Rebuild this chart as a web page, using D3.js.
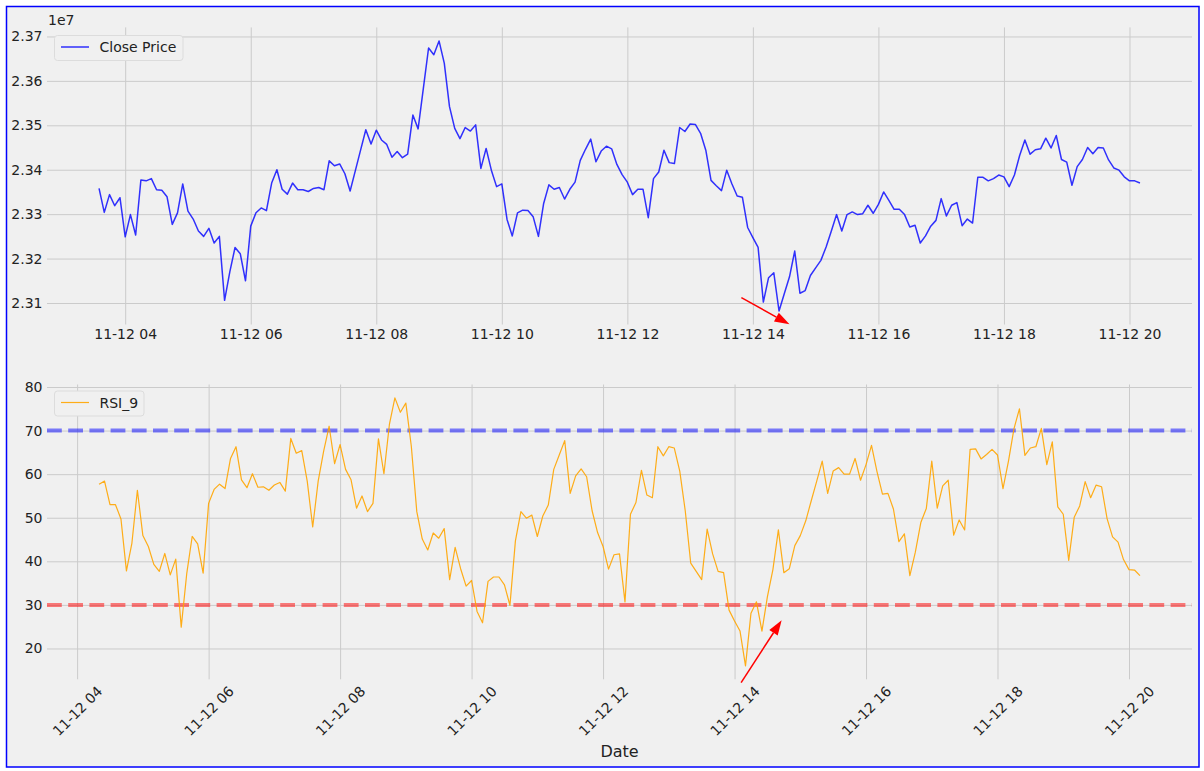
<!DOCTYPE html>
<html><head><meta charset="utf-8">
<script src="https://cdn.jsdelivr.net/npm/d3@7"></script>
<style>body{margin:0;background:#fff;} svg{display:block;font-family:"DejaVu Sans",sans-serif;}</style>
</head><body><svg id="c" width="1204" height="771"></svg>
<script>
// ---- data ----
const startTime = new Date(2021, 10, 12, 3, 35);
const stepMinutes = 5;
const closePrice = [
23358000,23304000,23344000,23319000,23337000,23249000,23299000,23253000,23377000,23375000,
23380000,23355000,23354000,23339000,23277000,23303000,23368000,23307000,23289000,23262000,
23250000,23268000,23235000,23250000,23106000,23170000,23225000,23211000,23150000,23273000,
23303000,23314000,23308000,23370000,23400000,23356000,23345000,23370000,23355000,23355000,
23351000,23358000,23360000,23355000,23420000,23409000,23413000,23391000,23352000,23398000,
23444000,23490000,23458000,23489000,23467000,23457000,23428000,23441000,23427000,23435000,
23523000,23492000,23583000,23674000,23659000,23690000,23640000,23542000,23493000,23470000,
23495000,23487000,23501000,23403000,23448000,23399000,23362000,23368000,23288000,23251000,
23303000,23309000,23308000,23294000,23250000,23324000,23366000,23356000,23360000,23334000,
23356000,23372000,23421000,23446000,23469000,23418000,23442000,23453000,23447000,23412000,
23389000,23372000,23344000,23356000,23356000,23292000,23380000,23395000,23444000,23416000,
23414000,23495000,23486000,23503000,23502000,23482000,23444000,23376000,23364000,23353000,
23399000,23368000,23341000,23338000,23270000,23247000,23225000,23102000,23157000,23168000,
23082000,23121000,23159000,23217000,23122000,23128000,23162000,23179000,23196000,23226000,
23262000,23299000,23262000,23299000,23305000,23299000,23301000,23320000,23302000,23322000,
23350000,23331000,23311000,23311000,23299000,23271000,23275000,23235000,23251000,23273000,
23286000,23335000,23296000,23320000,23326000,23274000,23289000,23280000,23383000,23383000,
23375000,23380000,23388000,23384000,23362000,23388000,23432000,23467000,23435000,23445000,
23447000,23471000,23449000,23477000,23423000,23417000,23365000,23407000,23423000,23450000,
23436000,23450000,23449000,23422000,23404000,23399000,23384000,23375000,23375000,23370000
];
const rsiStartIndex = 9;
const rsi9 = [
57.7,58.4,53.0,53.0,49.7,37.8,44.2,56.3,45.9,43.4,
39.3,37.7,41.8,36.9,40.5,24.9,37.1,45.7,44.0,37.3,
53.3,56.5,57.7,56.7,63.6,66.3,58.7,56.9,60.1,57.0,
57.1,56.3,57.5,58.1,56.1,68.2,64.8,65.4,58.4,47.9,
58.4,65.3,71.0,62.4,66.8,61.1,58.7,52.2,55.0,51.4,
53.3,68.1,60.1,71.4,77.5,74.2,76.3,66.4,51.4,45.1,
42.6,46.5,45.3,47.5,35.8,43.2,38.3,34.3,35.6,28.5,
25.9,35.4,36.4,36.4,34.6,29.9,44.7,51.4,49.9,50.6,
45.7,50.4,52.9,61.1,64.4,67.7,55.6,59.6,61.2,59.4,
51.6,46.6,43.4,38.2,41.5,41.7,30.7,50.8,53.5,60.9,
55.2,54.6,66.3,64.2,66.3,66.0,60.7,51.6,39.6,37.7,
35.8,47.4,41.7,37.7,37.4,28.8,26.3,24.0,16.0,28.1,
30.7,24.0,31.9,38.1,47.2,37.4,38.3,43.6,45.9,49.3,
53.9,58.4,63.0,55.6,60.7,61.5,60.0,60.0,63.6,58.6,
62.2,66.6,60.6,55.4,55.6,52.0,44.5,46.3,36.7,42.1,
48.9,52.1,63.0,52.2,57.3,58.6,46.0,49.5,47.2,65.7,
65.8,63.5,64.5,65.7,64.4,56.7,63.0,70.4,75.0,64.3,
66.0,66.3,70.5,62.2,67.4,52.5,50.8,40.2,50.1,52.7,
58.3,54.6,57.5,57.1,49.8,45.6,44.4,40.4,38.1,38.0,
36.7
];
const priceTicks = [2.31, 2.32, 2.33, 2.34, 2.35, 2.36, 2.37];
const rsiTicks = [20, 30, 40, 50, 60, 70, 80];
const overbought = 70, oversold = 30;
const arrowTop = {from: [new Date(2021,10,12,13,49), 23112000], to: [new Date(2021,10,12,14,35), 23052000]};
const arrowBottom = {from: [new Date(2021,10,12,14,6), 12.15], to: [new Date(2021,10,12,14,43), 26.5]};
const seriesNames = ["Close Price", "RSI_9"];

// ---- layout ----
const svg = d3.select("#c");
svg.append("rect").attr("x",6.5).attr("y",6.5).attr("width",1192.5).attr("height",760.5)
  .attr("fill","#f0f0f0").attr("stroke","#0000ff").attr("stroke-width",1.5);

const times = closePrice.map((_, i) => new Date(+startTime + i * stepMinutes * 60000));
const rsiPts = rsi9.map((v, k) => ({t: times[rsiStartIndex + k], v}));
function padExtent(ext){ const a=+ext[0], b=+ext[1], p=(b-a)*0.05; return [a-p, b+p]; }

const L = 47, R = 1192;
const A = {y0: 27.4, y1: 324.5}, B = {y0: 384.5, y1: 679.3};
const fmt = d3.timeFormat("%m-%d %H");
const txt = "#222";

const x1 = d3.scaleTime().domain(padExtent(d3.extent(times)).map(d=>new Date(d))).range([L, R]);
const y1 = d3.scaleLinear().domain(padExtent(d3.extent(closePrice))).range([A.y1, A.y0]);
const x2 = d3.scaleTime().domain(padExtent(d3.extent(rsiPts, d=>d.t)).map(d=>new Date(d))).range([L, R]);
const y2 = d3.scaleLinear().domain(padExtent(d3.extent(rsi9))).range([B.y1, B.y0]);

function styleAxis(g){
  g.attr("font-size",14).attr("font-family","DejaVu Sans, sans-serif").attr("color",txt);
  g.select(".domain").remove();
  g.selectAll("line").attr("stroke","#cbcbcb").attr("stroke-width",1);
}

// top axes grid + labels
svg.append("g").attr("transform",`translate(0,${A.y1})`)
  .call(d3.axisBottom(x1).ticks(d3.timeHour.every(2)).tickSize(-(A.y1-A.y0)).tickFormat(fmt).tickPadding(4.5))
  .call(styleAxis);
svg.append("g").attr("transform",`translate(${L},0)`)
  .call(d3.axisLeft(y1).tickValues(priceTicks.map(v=>v*1e7)).tickSize(-(R-L)).tickFormat(d=>(d/1e7).toFixed(2)).tickPadding(4.5))
  .call(styleAxis);
svg.append("text").attr("x",48).attr("y",25).attr("font-size",14).attr("fill",txt).text("1e7");

// bottom axes grid + labels
const gxb = svg.append("g").attr("transform",`translate(0,${B.y1})`)
  .call(d3.axisBottom(x2).ticks(d3.timeHour.every(2)).tickSize(-(B.y1-B.y0)).tickFormat(fmt))
  .call(styleAxis);
gxb.selectAll("text").attr("y",0).attr("dy","0.35em")
  .attr("transform",`translate(0,${711-B.y1}) rotate(-45)`).attr("text-anchor","middle");
svg.append("g").attr("transform",`translate(${L},0)`)
  .call(d3.axisLeft(y2).tickValues(rsiTicks).tickSize(-(R-L)).tickPadding(4.5))
  .call(styleAxis);
svg.append("text").attr("x",(L+R)/2).attr("y",756.5).attr("text-anchor","middle")
  .attr("font-size",16).attr("fill",txt).text("Date");

// threshold lines
[[overbought,"#0000ff"],[oversold,"#ff0000"]].forEach(([v,c])=>{
  svg.append("line").attr("x1",L).attr("x2",R).attr("y1",y2(v)).attr("y2",y2(v))
    .attr("stroke",c).attr("stroke-opacity",0.5).attr("stroke-width",4).attr("stroke-dasharray","14.8,6.4");
});

// series
svg.append("path").datum(times.map((t,i)=>[t,closePrice[i]]))
  .attr("d", d3.line().x(d=>x1(d[0])).y(d=>y1(d[1])))
  .attr("fill","none").attr("stroke","#0000ff").attr("stroke-opacity",0.8).attr("stroke-width",1.5)
  .attr("stroke-linejoin","round");
svg.append("path").datum(rsiPts)
  .attr("d", d3.line().x(d=>x2(d.t)).y(d=>y2(d.v)))
  .attr("fill","none").attr("stroke","#ffa500").attr("stroke-opacity",0.9).attr("stroke-width",1.2)
  .attr("stroke-linejoin","round");

// legends
function legend(x,y,w,label,color,sw,op){
  const g = svg.append("g");
  g.append("rect").attr("x",x).attr("y",y).attr("width",w).attr("height",25).attr("rx",3)
    .attr("fill","#f0f0f0").attr("stroke","#dcdcdc").attr("stroke-width",1);
  g.append("line").attr("x1",x+6.5).attr("x2",x+34.5).attr("y1",y+11.5).attr("y2",y+11.5)
    .attr("stroke",color).attr("stroke-width",sw).attr("stroke-opacity",op);
  g.append("text").attr("x",x+45).attr("y",y+16.5).attr("font-size",14).attr("fill",txt).text(label);
}
legend(54.5,35.5,128.5,seriesNames[0],"#0000ff",1.5,0.8);
legend(54.5,391,89.5,seriesNames[1],"#ffa500",1.2,0.9);

// arrows
function arrow(a, xs, ys){
  const x0=xs(a.from[0]), yy0=ys(a.from[1]), xt=xs(a.to[0]), yt=ys(a.to[1]);
  const dx=xt-x0, dy=yt-yy0, len=Math.hypot(dx,dy), ux=dx/len, uy=dy/len;
  const hl=15, hw=5;
  const bx=xt-ux*hl, by=yt-uy*hl;
  svg.append("line").attr("x1",x0).attr("y1",yy0).attr("x2",bx).attr("y2",by)
    .attr("stroke","#ff0000").attr("stroke-width",1.5);
  svg.append("polygon").attr("points",[[xt,yt],[bx-uy*hw,by+ux*hw],[bx+uy*hw,by-ux*hw]].map(p=>p.join(",")).join(" "))
    .attr("fill","#ff0000");
}
arrow(arrowTop, x1, y1);
arrow(arrowBottom, x2, y2);
</script></body></html>
